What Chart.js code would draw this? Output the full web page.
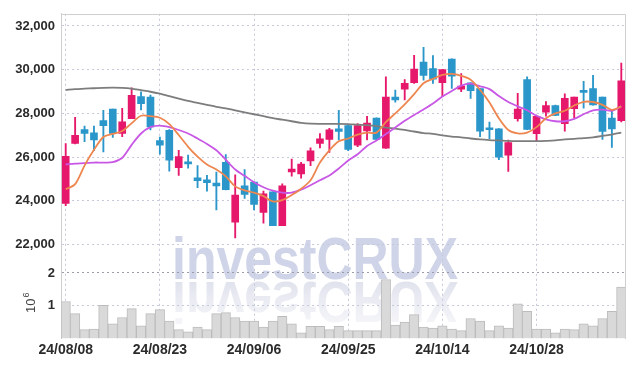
<!DOCTYPE html>
<html><head><meta charset="utf-8">
<script src="https://cdn.jsdelivr.net/npm/chart.js@4"></script>
<style>html,body{margin:0;padding:0;background:#fff}#wrap{width:634px;height:366px;position:relative}</style>
</head><body><div id="wrap"><canvas id="c" width="634" height="366"></canvas></div>
<script>
const dates = ["24/08/08","24/08/09","24/08/12","24/08/13","24/08/14","24/08/16","24/08/19","24/08/20","24/08/21","24/08/22",
"24/08/23","24/08/26","24/08/27","24/08/28","24/08/29","24/08/30","24/09/02","24/09/03","24/09/04","24/09/05",
"24/09/06","24/09/09","24/09/10","24/09/11","24/09/12","24/09/13","24/09/19","24/09/20","24/09/23","24/09/24",
"24/09/25","24/09/26","24/09/27","24/09/30","24/10/02","24/10/04","24/10/07","24/10/08","24/10/10","24/10/11",
"24/10/14","24/10/15","24/10/16","24/10/17","24/10/18","24/10/21","24/10/22","24/10/23","24/10/24","24/10/25",
"24/10/28","24/10/29","24/10/30","24/10/31","24/11/01","24/11/04","24/11/05","24/11/06","24/11/07","24/11/08"];
const opens  = [23880,26630,27260,27110,27670,28200,27080,27760,28770,28740,26750,27220,25520,25760,25050,24960,24810,25760,23020,24680,
24860,23470,24410,22860,25320,25230,25820,26630,26810,27290,27440,26540,27200,27790,26410,28740,29110,29400,30350,30050,
29400,30480,29110,29400,29140,27310,27290,26090,27760,29550,27070,28060,28360,27530,28210,28990,29140,28740,27790,27670];
const highs  = [26620,27820,27420,27420,28140,28200,28230,29170,28990,28840,26910,27260,26310,26090,25610,25160,25310,26110,25190,25430,
24860,24440,24410,24770,25910,25760,26420,27080,27310,28140,27460,27530,27870,27800,29670,29070,29550,30660,31020,30640,
30000,30500,29820,29400,29140,27600,27300,26780,28920,29670,27900,28540,28380,28890,28750,29470,29740,28750,28090,30300];
const lows   = [23780,26600,26700,26290,26240,26900,26930,27760,28160,27240,26130,25350,25160,25490,24600,24440,23580,24500,22300,24110,
23580,22980,22860,22860,25130,25040,25610,26420,26210,26780,26290,26480,26780,26800,26400,28510,28620,29370,29520,29370,
28770,29140,28990,28690,26930,26840,25880,25340,27640,27250,26710,27870,27900,27190,27790,28240,28380,26810,26440,27610];
const closes = [26030,26990,27080,26780,27440,27080,27610,28830,28440,27380,26550,25860,26020,25690,24920,24830,24680,24510,24260,24290,
23830,24320,22860,24680,25450,25680,26290,26830,27250,27170,26350,27440,27560,26810,28740,28620,29370,30030,29740,29560,
30000,29700,29250,29040,27190,27250,25990,26660,28200,27260,27870,28360,27910,28690,28740,28960,28390,27170,27290,29490];
const volumes = [1130000,760000,270000,290000,1010000,450000,640000,910000,390000,760000,880000,530000,270000,200000,350000,270000,760000,790000,640000,530000,
530000,350000,530000,680000,450000,170000,370000,370000,270000,370000,240000,240000,240000,240000,1800000,410000,500000,730000,350000,320000,
390000,290000,240000,610000,530000,240000,390000,320000,1060000,830000,290000,290000,170000,290000,270000,450000,390000,610000,830000,1570000];
const maShort = [24530,24760,25610,26330,26920,27060,27190,27550,27890,27870,27800,27510,27010,26470,26020,25660,25430,25120,24660,24480,
24370,24210,23970,24030,24260,24550,24940,25750,26310,26720,26850,27030,27120,27120,27600,28000,28410,28880,29380,29580,
29760,29810,29720,29540,29080,28500,27780,27240,27080,27120,27370,27780,28000,28120,28360,28530,28520,28390,28160,28320];
const maMid = [25660,25700,25720,25750,25750,25770,25970,26560,27080,27370,27440,27370,27240,27080,26850,26600,26310,25880,25430,25140,
24850,24620,24460,24370,24370,24510,24710,24940,25160,25480,25840,26130,26510,26760,27060,27350,27660,27930,28180,28450,
28770,29020,29270,29360,29240,29110,28790,28520,28320,28140,27890,27730,27640,27640,27750,27960,28140,28170,28120,28320];
const maLong = [29080,29110,29130,29150,29170,29180,29170,29130,29060,28990,28900,28790,28680,28570,28480,28390,28300,28230,28140,28050,
27960,27870,27780,27710,27640,27570,27530,27520,27520,27520,27510,27480,27460,27420,27350,27300,27240,27170,27100,27060,
26990,26940,26900,26850,26810,26780,26760,26740,26730,26730,26730,26740,26760,26810,26830,26870,26900,26970,27030,27120];
const priceTicks = [22000,24000,26000,28000,30000,32000];
const volumeTicks = [1000000,2000000];
const labelEvery = 10;

const UP = '#e6186b', DOWN = '#2a96c9';
const candleColors = closes.map((c,i)=> c >= opens[i] ? UP : DOWN);
const FONT = '"Liberation Sans",Arial,sans-serif';
const GRID = '#c6c9d9';

const frame = {
  id:'frame',
  beforeDraw(chart){
    const ctx = chart.ctx;
    ctx.save();
    ctx.fillStyle = '#fff';
    ctx.fillRect(0,0,chart.width,chart.height);
    ctx.font = 'bold 60px "Liberation Sans",sans-serif';
    const w = ctx.measureText('investCRUX').width;
    const sx = 286 / w;
    ctx.save();
    ctx.translate(172, 279);
    ctx.scale(sx, 1);
    ctx.fillStyle = '#cfd4e8';
    ctx.fillText('investCRUX', 0, 0);
    ctx.restore();
    ctx.save();
    ctx.translate(172, 282);
    ctx.scale(sx, -0.95);
    const g = ctx.createLinearGradient(0, 0, 0, -45);
    g.addColorStop(0, 'rgba(224,226,237,1)');
    g.addColorStop(1, 'rgba(238,239,245,0.6)');
    ctx.fillStyle = g;
    ctx.fillText('investCRUX', 0, 0);
    ctx.restore();
    ctx.restore();
  },
  afterDraw(chart){
    const {ctx, chartArea:a} = chart;
    ctx.save();
    ctx.strokeStyle = '#cfcfcf';
    ctx.lineWidth = 1;
    ctx.beginPath();
    ctx.moveTo(Math.round(a.left)+0.5, Math.round(a.top)+0.5);
    ctx.lineTo(Math.round(a.right)-0.5, Math.round(a.top)+0.5);
    ctx.lineTo(Math.round(a.right)-0.5, Math.round(a.bottom));
    ctx.stroke();
    ctx.fillStyle = '#444';
    ctx.translate(35, 313);
    ctx.rotate(-Math.PI/2);
    ctx.font = '13px "Liberation Sans",sans-serif';
    ctx.textBaseline = 'alphabetic';
    ctx.fillText('10', 0, 0);
    const tw = ctx.measureText('10').width;
    ctx.font = '9px "Liberation Sans",sans-serif';
    ctx.fillText('6', tw + 1, -6);
    ctx.restore();
  }
};

new Chart(document.getElementById('c'), {
  type: 'bar',
  data: {
    labels: dates,
    datasets: [
      {type:'line', label:'MA short', data: maShort, yAxisID:'y', borderColor:'#ee8650', borderWidth:1.8, pointRadius:0, tension:0.3, order:0},
      {type:'line', label:'MA mid', data: maMid, yAxisID:'y', borderColor:'#c957e6', borderWidth:1.8, pointRadius:0, tension:0.3, order:0},
      {type:'line', label:'MA long', data: maLong, yAxisID:'y', borderColor:'#7d7d7d', borderWidth:1.8, pointRadius:0, tension:0.3, order:0},
      {label:'body', data: opens.map((o,i)=>[o, closes[i]]), yAxisID:'y', backgroundColor: candleColors, borderWidth:0, barThickness:7, minBarLength:2, grouped:false, order:1},
      {label:'wick', data: lows.map((l,i)=>[l, highs[i]]), yAxisID:'y', backgroundColor: candleColors, borderWidth:0, barThickness:1.2, grouped:false, order:2},
      {label:'volume', data: volumes, yAxisID:'yv', backgroundColor:'#d9d9d9', borderColor:'#bcbcbc', borderWidth:1, barPercentage:1, categoryPercentage:1, grouped:false, order:3}
    ]
  },
  options: {
    responsive:false, animation:false, devicePixelRatio:1, events:[],
    layout:{padding:{top:9, right:8, left:0, bottom:0}},
    plugins:{legend:{display:false}, tooltip:{enabled:false}},
    scales:{
      x:{
        type:'category', offset:true,
        grid:{offset:false, color:GRID, drawTicks:false},
        border:{display:false, dash:[2,3]},
        ticks:{autoSkip:false, maxRotation:0, padding:3, color:'#2b2b2b', font:{family:FONT, size:14, weight:'bold'}},
        afterBuildTicks(s){ s.ticks = s.ticks.filter(t => t.value % labelEvery === 0); },
        afterFit(s){ s.height = 27.5; }
      },
      yv:{
        type:'linear', position:'left', stack:'s', stackWeight:66.5, min:0, max:2000000,
        grid:{color: c => (c.tick && c.tick.value === 2000000) ? '#9b9ca8' : GRID, drawTicks:false},
        border:{display:true, color:'#cfcfcf', dash:[2,3]},
        ticks:{padding:6, color:'#2b2b2b', font:{family:FONT, size:13, weight:'bold'}, callback: v => String(v/1000000)},
        afterBuildTicks(s){ s.ticks = volumeTicks.map(v => ({value:v})); },
        afterFit(s){ s.width = 61; }
      },
      y:{
        type:'linear', position:'left', stack:'s', stackWeight:263, min:20696, max:32557,
        grid:{color:GRID, drawTicks:false},
        border:{display:true, color:'#cfcfcf', dash:[2,3]},
        ticks:{padding:6, color:'#2b2b2b', font:{family:FONT, size:13, weight:'bold'}, callback: v => v.toLocaleString('en-US')},
        afterBuildTicks(s){ s.ticks = priceTicks.map(v => ({value:v})); },
        afterFit(s){ s.width = 61; }
      }
    }
  },
  plugins:[frame]
});
</script>
</body></html>
